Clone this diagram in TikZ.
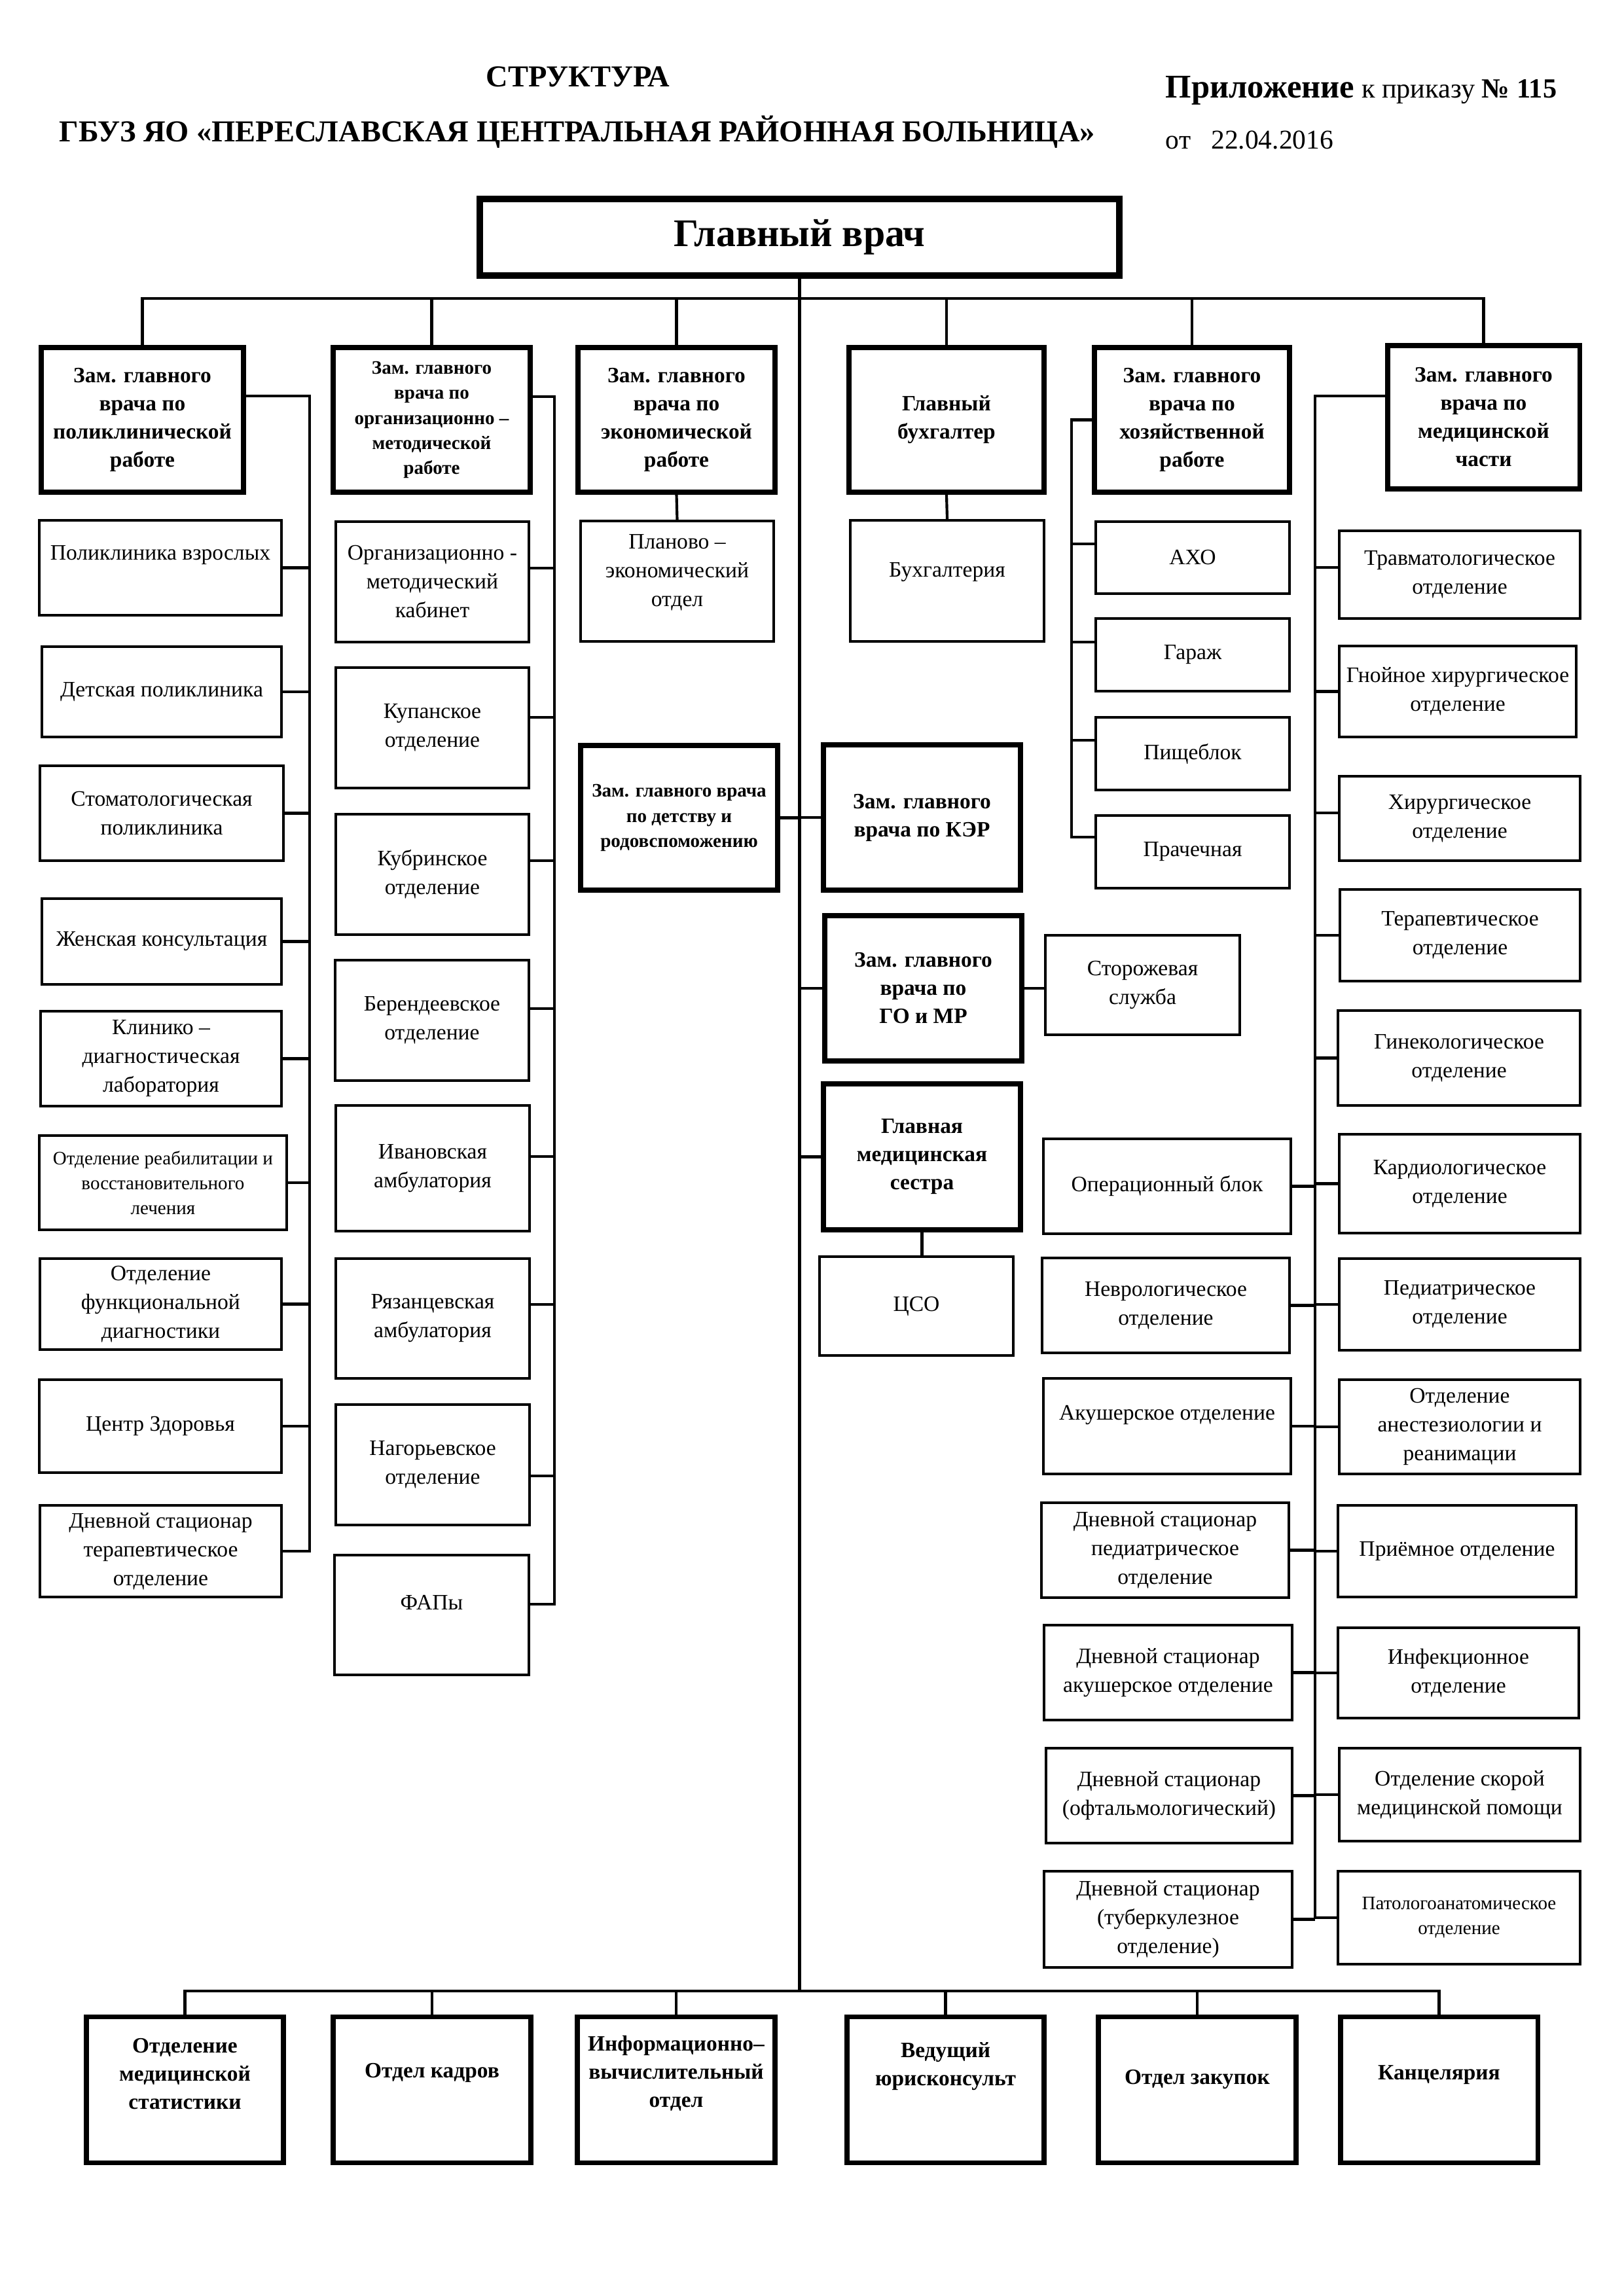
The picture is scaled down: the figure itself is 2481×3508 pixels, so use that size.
\documentclass[tikz,border=0pt]{standalone}
\usepackage{fontspec}
\setmainfont{Liberation Serif}
\newcommand{\lift}[1]{\rule[-#1]{0pt}{#1}}
\tikzset{
  otd/.style={draw, line width=1pt, align=center, inner sep=1pt, font=\fontsize{8.1}{10.6}\selectfont},
  otdm/.style={otd, font=\fontsize{7}{9.1}\selectfont},
  zam/.style={otd, line width=1.7pt, font=\bfseries\fontsize{8.05}{10.35}\selectfont},
  zamm/.style={zam, font=\bfseries\fontsize{7}{9.2}\selectfont},
  sz/.style 2 args={minimum width=#1*0.0846667mm, minimum height=#2*0.0846667mm},
  link/.style={line width=1pt}
}
\begin{document}
\begin{tikzpicture}[x=0.0846667mm, y=-0.0846667mm]
\path[fill=white] (0,0) rectangle (2481,3508);
\useasboundingbox (0,0) rectangle (2481,3508);
\node[font=\bfseries\fontsize{11.2}{13}\selectfont] (strukt) at (883,117) {СТРУКТУРА};
\node[font=\bfseries\fontsize{11.2}{13}\selectfont] (gbuz) at (882,202) {ГБУЗ ЯО «ПЕРЕСЛАВСКАЯ ЦЕНТРАЛЬНАЯ РАЙОННАЯ БОЛЬНИЦА»};
\node[anchor=west, inner sep=0pt, font=\fontsize{10.2}{12}\selectfont] (pril) at (1780,138) {\textbf{\fontsize{12.2}{14}\selectfont Приложение} к приказу \textbf{№ 115}};
\node[anchor=west, inner sep=0pt, font=\fontsize{10}{12}\selectfont] (data) at (1780,214) {от~~~22.04.2016};
\node[draw, line width=2.2pt, sz={977}{117}, font=\bfseries\fontsize{14.4}{17}\selectfont] (glv) at (1221.5,362.5) {Главный врач};
\node[zam, sz={309}{221}] (zam1) at (217.5,641.5) {Зам. главного\\врача по\\поликлинической\\работе};
\node[zamm, sz={301}{221}] (zam2) at (659.5,641.5) {Зам. главного\\врача по\\организационно –\\методической\\работе};
\node[zam, sz={301}{221}] (zam3) at (1033.5,641.5) {Зам. главного\\врача по\\экономической\\работе};
\node[zam, sz={298}{221}] (buh) at (1446,641.5) {Главный\\бухгалтер};
\node[zam, sz={298}{221}] (zam5) at (1821,641.5) {Зам. главного\\врача по\\хозяйственной\\работе};
\node[zam, sz={293}{219}] (zam6) at (2266.5,637.5) {Зам. главного\\врача по\\медицинской\\части};
\node[otd, sz={370}{145}] (polv) at (245,867.5) {Поликлиника взрослых\lift{11pt}};
\node[otd, sz={366}{138}] (detp) at (247,1057) {Детская поликлиника};
\node[otd, sz={372}{145}] (stom) at (247,1242.5) {Стоматологическая\\поликлиника};
\node[otd, sz={366}{131}] (zhk) at (247,1438.5) {Женская консультация};
\node[otd, sz={368}{145}] (kdl) at (246,1617.5) {Клинико –\\диагностическая\\лаборатория};
\node[otdm, sz={378}{144}] (reab) at (249,1807) {Отделение реабилитации и\\восстановительного\\лечения};
\node[otd, sz={369}{139}] (ofd) at (245.5,1992.5) {Отделение\\функциональной\\диагностики};
\node[otd, sz={370}{142}] (czd) at (245,2179) {Центр Здоровья};
\node[otd, sz={369}{140}] (dst) at (245.5,2370) {Дневной стационар\\терапевтическое\\отделение};
\node[otd, sz={295}{184}] (orgm) at (660.5,889) {Организационно -\\методический\\кабинет};
\node[otd, sz={295}{184}] (kup) at (660.5,1112) {Купанское\\отделение};
\node[otd, sz={295}{184}] (kub) at (660.5,1336) {Кубринское\\отделение};
\node[otd, sz={296}{184}] (ber) at (660,1559) {Берендеевское\\отделение};
\node[otd, sz={296}{192}] (ivan) at (661,1785) {Ивановская\\амбулатория};
\node[otd, sz={296}{183}] (ryaz) at (661,2014.5) {Рязанцевская\\амбулатория};
\node[otd, sz={296}{184}] (nag) at (661,2238) {Нагорьевское\\отделение};
\node[otd, sz={297}{183}] (fap) at (659.5,2467.5) {ФАПы\lift{9pt}};
\node[otd, sz={295}{184}] (plan) at (1034.5,888) {Планово –\\экономический\\отдел\lift{8pt}};
\node[zamm, sz={301}{221}] (detstvo) at (1037.5,1249.5) {Зам. главного врача\\по детству и\\родовспоможению};
\node[otd, sz={296}{185}] (bux) at (1447,887.5) {Бухгалтерия\lift{8pt}};
\node[zam, sz={301}{222}] (ker) at (1408.5,1249) {Зам. главного\\врача по КЭР};
\node[zam, sz={301}{222}] (gomr) at (1410.5,1510) {Зам. главного\\врача по\\ГО и МР};
\node[zam, sz={301}{223}] (gms) at (1408.5,1767.5) {Главная\\медицинская\\сестра};
\node[otd, sz={296}{151}] (cso) at (1400,1995.5) {ЦСО};
\node[otd, sz={297}{152}] (storozh) at (1745.5,1505) {Сторожевая\\служба};
\node[otd, sz={296}{110}] (axo) at (1822,852) {АХО};
\node[otd, sz={296}{111}] (garazh) at (1822,1000.5) {Гараж};
\node[otd, sz={296}{111}] (pishch) at (1822,1151.5) {Пищеблок};
\node[otd, sz={296}{111}] (prach) at (1822,1301.5) {Прачечная};
\node[otd, sz={378}{145}] (oper) at (1783,1812.5) {Операционный блок};
\node[otd, sz={378}{145}] (nevr) at (1781,1994.5) {Неврологическое\\отделение};
\node[otd, sz={378}{146}] (akush) at (1783,2179) {Акушерское отделение\lift{10pt}};
\node[otd, sz={378}{145}] (dsp) at (1780,2368.5) {Дневной стационар\\педиатрическое\\отделение};
\node[otd, sz={379}{145}] (dsa) at (1784.5,2555.5) {Дневной стационар\\акушерское отделение};
\node[otd, sz={376}{145}] (dso) at (1786,2743.5) {Дневной стационар\\(офтальмологический)};
\node[otd, sz={379}{147}] (dstub) at (1784.5,2932.5) {Дневной стационар\\(туберкулезное\\отделение)};
\node[otd, sz={368}{134}] (travm) at (2230,878) {Травматологическое\\отделение};
\node[otd, sz={362}{139}] (gnoy) at (2227,1056.5) {Гнойное хирургическое\\отделение};
\node[otd, sz={368}{129}] (hir) at (2230,1250.5) {Хирургическое\\отделение};
\node[otd, sz={367}{140}] (ter) at (2230.5,1429) {Терапевтическое\\отделение};
\node[otd, sz={370}{145}] (gin) at (2229,1616.5) {Гинекологическое\\отделение};
\node[otd, sz={368}{151}] (kard) at (2230,1808.5) {Кардиологическое\\отделение};
\node[otd, sz={368}{140}] (ped) at (2230,1993) {Педиатрическое\\отделение};
\node[otd, sz={368}{144}] (anest) at (2230,2180) {Отделение\\анестезиологии и\\реанимации};
\node[otd, sz={364}{140}] (priem) at (2226,2370) {Приёмное отделение};
\node[otd, sz={368}{138}] (inf) at (2228,2556) {Инфекционное\\отделение};
\node[otd, sz={368}{142}] (skor) at (2230,2742) {Отделение скорой\\медицинской помощи};
\node[otdm, sz={370}{142}] (pat) at (2229,2930) {Патологоанатомическое\\отделение};
\node[zam, sz={301}{223}] (stat) at (282.5,3192.5) {Отделение\\медицинской\\статистики\lift{11.5pt}};
\node[zam, sz={302}{223}] (kadr) at (660,3192.5) {Отдел кадров\lift{14pt}};
\node[zam, sz={302}{223}] (ivo) at (1033,3192.5) {Информационно–\\вычислительный\\отдел\lift{13.5pt}};
\node[zam, sz={301}{223}] (yur) at (1444.5,3192.5) {Ведущий\\юрисконсульт\lift{19pt}};
\node[zam, sz={302}{223}] (zak) at (1829,3192.5) {Отдел закупок\lift{9pt}};
\node[zam, sz={301}{223}] (kanc) at (2198.5,3192.5) {Канцелярия\lift{12.5pt}};
\coordinate (vtop) at (1221.5,456);
\coordinate (vbot) at (1221.5,3042);
\coordinate (lb) at (473,605);
\coordinate (mb) at (847,606);
\coordinate (hb) at (1637,641.5);
\coordinate (rb) at (2009,605);
\draw[link] (glv.south) -- (vbot);
\draw[link] (zam1.north) |- (vtop) -| (zam6.north);
\draw[link] (zam2.north) -- (zam2.north |- vtop);
\draw[link] (zam3.north) -- (zam3.north |- vtop);
\draw[link] (buh.north) -- (buh.north |- vtop);
\draw[link] (zam5.north) -- (zam5.north |- vtop);
\draw[link] (zam1.east |- lb) -- (lb) |- (dst.east);
\draw[link] (polv.east) -- (polv.east -| lb);
\draw[link] (detp.east) -- (detp.east -| lb);
\draw[link] (stom.east) -- (stom.east -| lb);
\draw[link] (zhk.east) -- (zhk.east -| lb);
\draw[link] (kdl.east) -- (kdl.east -| lb);
\draw[link] (reab.east) -- (reab.east -| lb);
\draw[link] (ofd.east) -- (ofd.east -| lb);
\draw[link] (czd.east) -- (czd.east -| lb);
\draw[link] (zam2.east |- mb) -- (mb) |- ([yshift=4pt]fap.east);
\draw[link] ([yshift=5pt]orgm.east) -- ([yshift=5pt]orgm.east -| mb);
\draw[link] ([yshift=3.8pt]kup.east) -- ([yshift=3.8pt]kup.east -| mb);
\draw[link] ([yshift=5pt]kub.east) -- ([yshift=5pt]kub.east -| mb);
\draw[link] ([yshift=4.3pt]ber.east) -- ([yshift=4.3pt]ber.east -| mb);
\draw[link] ([yshift=4.3pt]ivan.east) -- ([yshift=4.3pt]ivan.east -| mb);
\draw[link] ([yshift=5.2pt]ryaz.east) -- ([yshift=5.2pt]ryaz.east -| mb);
\draw[link] ([yshift=-4pt]nag.east) -- ([yshift=-4pt]nag.east -| mb);
\draw[link] (zam3.south) -- (plan.north);
\draw[link] (buh.south) -- (bux.north);
\draw[link] (zam5.west) -- (hb) |- ([yshift=5.4pt]prach.west);
\draw[link] ([yshift=5pt]axo.west) -- ([yshift=5pt]axo.west -| hb);
\draw[link] ([yshift=4.7pt]garazh.west) -- ([yshift=4.7pt]garazh.west -| hb);
\draw[link] ([yshift=4.9pt]pishch.west) -- ([yshift=4.9pt]pishch.west -| hb);
\draw[link] (detstvo.east) -- (detstvo.east -| vbot);
\draw[link] (ker.west) -- (ker.west -| vbot);
\draw[link] (gomr.west) -- (gomr.west -| vbot);
\draw[link] (gms.west) -- (gms.west -| vbot);
\draw[link] (gomr.east) -- (gomr.east -| storozh.west);
\draw[link] (gms.south) -- (gms.south |- cso.north);
\draw[link] (zam6.west |- rb) -- (rb) |- (pat.west);
\draw[link] ([yshift=2.6pt]travm.west) -- ([yshift=2.6pt]travm.west -| rb);
\draw[link] (gnoy.west) -- (gnoy.west -| rb);
\draw[link] ([yshift=2pt]hir.west) -- ([yshift=2pt]hir.west -| rb);
\draw[link] (ter.west) -- (ter.west -| rb);
\draw[link] (gin.west) -- (gin.west -| rb);
\draw[link] (kard.west) -- (kard.west -| rb);
\draw[link] (ped.west) -- (ped.west -| rb);
\draw[link] (anest.west) -- (anest.west -| rb);
\draw[link] (priem.west) -- (priem.west -| rb);
\draw[link] (inf.west) -- (inf.west -| rb);
\draw[link] (skor.west) -- (skor.west -| rb);
\draw[link] (oper.east) -- (oper.east -| rb);
\draw[link] (nevr.east) -- (nevr.east -| rb);
\draw[link] (akush.east) -- (akush.east -| rb);
\draw[link] (dsp.east) -- (dsp.east -| rb);
\draw[link] (dsa.east) -- (dsa.east -| rb);
\draw[link] (dso.east) -- (dso.east -| rb);
\draw[link] (dstub.east) -- (dstub.east -| rb);
\draw[link] (stat.north) |- (vbot) -| (kanc.north);
\draw[link] (kadr.north) -- (kadr.north |- vbot);
\draw[link] (ivo.north) -- (ivo.north |- vbot);
\draw[link] (yur.north) -- (yur.north |- vbot);
\draw[link] (zak.north) -- (zak.north |- vbot);
\end{tikzpicture}
\end{document}
